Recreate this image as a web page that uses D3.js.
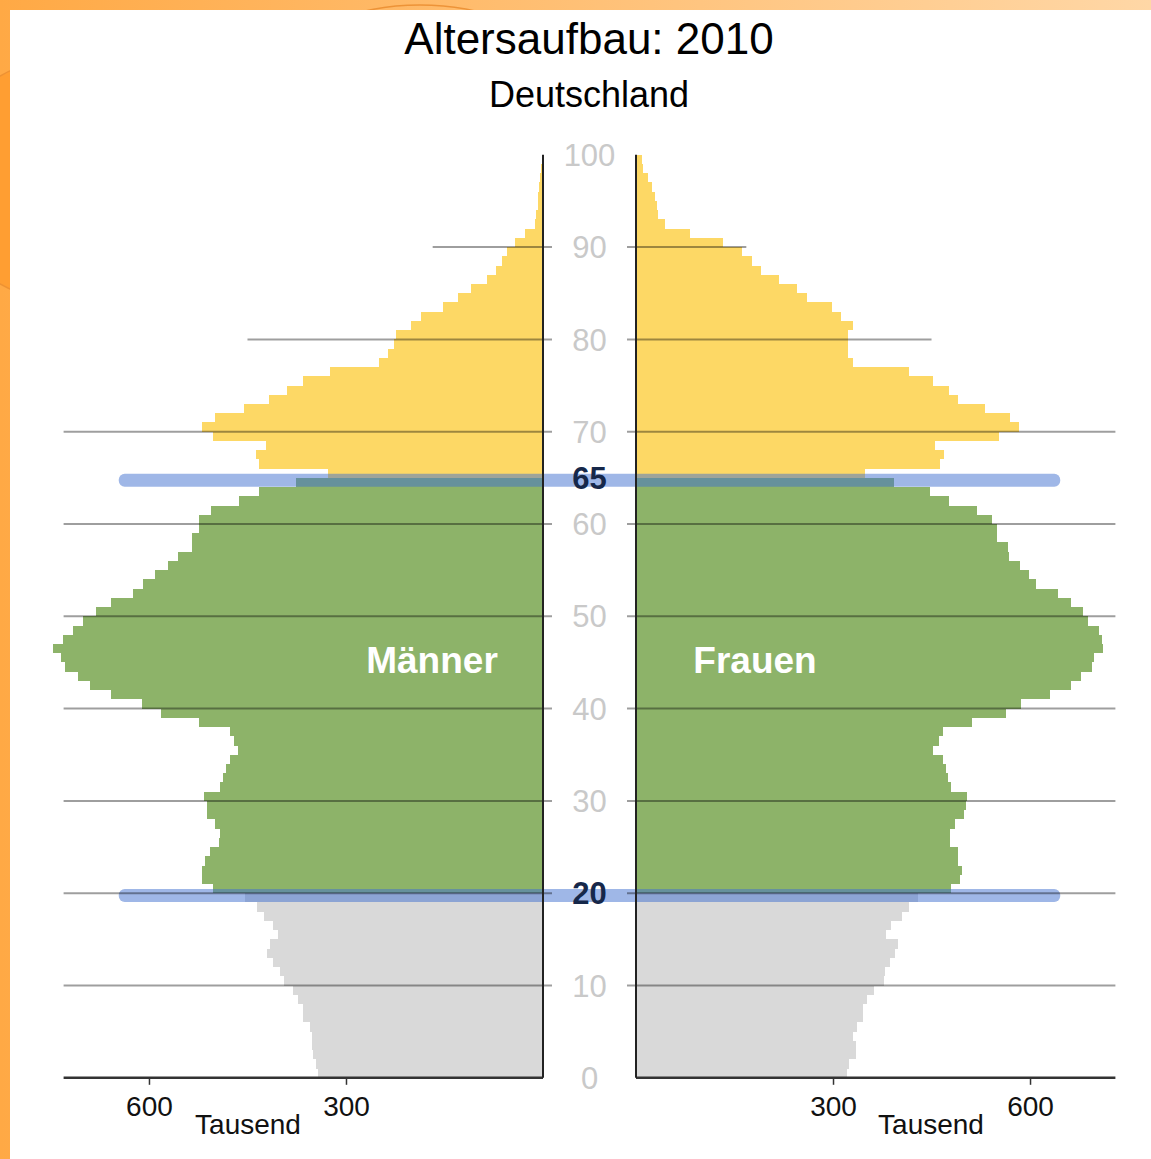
<!DOCTYPE html>
<html lang="de">
<head>
<meta charset="UTF-8">
<title>Altersaufbau: 2010</title>
<script src="https://d3js.org/d3.v7.min.js"></script>
<style>
  body { margin: 0; background: #fff; }
  svg text { font-family: "Liberation Sans", Arial, Helvetica, sans-serif; }
</style>
</head>
<body>
<svg id="chart" width="1151" height="1159"></svg>
<script>
// population in thousands, index = age 0..99
const ages = d3.range(0, 100);
const maenner = [
  342, 345, 350, 352, 352, 355, 365, 365, 373, 381,
  395, 400, 411, 421, 416, 403, 411, 425, 436, 454,
  502, 519, 519, 514, 507, 493, 492, 499, 512, 512,
  516, 492, 487, 483, 477, 465, 471, 477, 524, 582,
  611, 658, 690, 708, 728, 734, 746, 731, 715, 701,
  680, 658, 624, 609, 591, 571, 556, 535, 535, 524,
  524, 505, 463, 432, 376, 327, 432, 437, 422, 502,
  519, 500, 456, 417, 390, 365, 324, 250, 236, 227,
  224, 201, 186, 153, 129, 110, 85, 71, 63, 55,
  43, 27, 12, 10, 8, 7, 6, 4, 3, 2
];
const frauen = [
  322, 325, 335, 335, 330, 337, 345, 345, 352, 362,
  377, 379, 387, 395, 399, 381, 388, 405, 415, 430,
  479, 494, 496, 491, 491, 478, 478, 486, 499, 502,
  504, 480, 475, 472, 467, 453, 461, 467, 512, 563,
  587, 630, 662, 678, 694, 697, 711, 710, 705, 689,
  681, 662, 642, 609, 598, 585, 568, 566, 550, 550,
  542, 519, 476, 448, 393, 349, 463, 469, 455, 552,
  583, 570, 531, 491, 477, 453, 415, 331, 323, 323,
  323, 331, 312, 298, 260, 245, 217, 191, 176, 161,
  133, 82, 44, 34, 32, 29, 24, 19, 11, 9
];
const ageTicks = [0, 10, 30, 40, 50, 60, 70, 80, 90, 100];
const highlightAges = [20, 65];
const gridAges = [10, 20, 30, 40, 50, 60, 70, 80, 90];
const gridLength = {80: 450, 90: 168};   // shorter lines at the top (thousands)
const valueTicks = [300, 600];

const svg = d3.select("#chart");
const W = 1151, H = 1159;

// orange frame
const defs = svg.append("defs");
const grad = defs.append("linearGradient").attr("id", "frame").attr("x1", 0).attr("x2", 1);
grad.append("stop").attr("offset", 0).attr("stop-color", "#ffa945");
grad.append("stop").attr("offset", 1).attr("stop-color", "#ffd7a6");
svg.append("rect").attr("width", W).attr("height", H).attr("fill", "url(#frame)");
const deco = svg.append("g").attr("fill", "none").attr("stroke", "#e8892c").attr("stroke-width", 1.5);
deco.append("circle").attr("cx", 60).attr("cy", 180).attr("r", 120).attr("fill", "#ff9a2a").attr("opacity", 0.7);
deco.append("circle").attr("cx", 420).attr("cy", 260).attr("r", 255).attr("opacity", 0.8);
svg.append("rect").attr("x", 10).attr("y", 10).attr("width", W - 10).attr("height", H - 10).attr("fill", "#fff");

// scales
const y = d3.scaleLinear().domain([0, 100]).range([1077.8, 154.8]);
const xL = d3.scaleLinear().domain([0, 730]).range([543, 63.6]);
const xR = d3.scaleLinear().domain([0, 730]).range([636, 1115.4]);

const colorOf = a => a < 20 ? "#d9d9d9" : (a < 65 ? "#8db369" : "#fdd865");

// bars
const bars = svg.append("g").attr("shape-rendering", "crispEdges");
bars.selectAll("rect.m").data(ages).join("rect")
  .attr("class", "m")
  .attr("x", a => xL(maenner[a]))
  .attr("y", a => y(a + 1))
  .attr("width", a => xL(0) - xL(maenner[a]))
  .attr("height", a => y(a) - y(a + 1))
  .attr("fill", colorOf);
bars.selectAll("rect.f").data(ages).join("rect")
  .attr("class", "f")
  .attr("x", xR(0))
  .attr("y", a => y(a + 1))
  .attr("width", a => xR(frauen[a]) - xR(0))
  .attr("height", a => y(a) - y(a + 1))
  .attr("fill", colorOf);

// highlight bands at 20 and 65
svg.append("g").selectAll("rect").data(highlightAges).join("rect")
  .attr("x", xL(646))
  .attr("width", xR(646) - xL(646))
  .attr("y", a => y(a - 0.25) - 6.5)
  .attr("height", 13)
  .attr("rx", 6)
  .attr("fill", "#3f6fd0")
  .attr("opacity", 0.5);

// grid lines
const grid = svg.append("g").attr("stroke", "#000").attr("stroke-opacity", 0.38).attr("stroke-width", 2);
grid.selectAll("line.l").data(gridAges).join("line")
  .attr("x1", a => xL(gridLength[a] || 730)).attr("x2", xL(0) + 9)
  .attr("y1", a => y(a)).attr("y2", a => y(a));
grid.selectAll("line.r").data(gridAges).join("line")
  .attr("x1", xR(0) - 9).attr("x2", a => xR(gridLength[a] || 730))
  .attr("y1", a => y(a)).attr("y2", a => y(a));

// axes
const axL = d3.axisBottom(xL).tickValues(valueTicks).tickSize(7).tickFormat(d3.format("d"));
const axR = d3.axisBottom(xR).tickValues(valueTicks).tickSize(7).tickFormat(d3.format("d"));
[axL, axR].forEach(ax => {
  const g = svg.append("g").attr("transform", `translate(0,${y(0)})`).call(ax);
  g.select(".domain").remove();
  g.selectAll(".tick line").attr("stroke", "#333").attr("stroke-width", 1.5);
  g.selectAll(".tick text").attr("font-size", 28).attr("fill", "#111").attr("y", 18)
    .attr("font-family", "Liberation Sans, Arial, sans-serif");
});
svg.append("line").attr("x1", xL(730)).attr("x2", xL(0)).attr("y1", y(0)).attr("y2", y(0))
  .attr("stroke", "#333").attr("stroke-width", 2.5);
svg.append("line").attr("x1", xR(0)).attr("x2", xR(730)).attr("y1", y(0)).attr("y2", y(0))
  .attr("stroke", "#333").attr("stroke-width", 2.5);
svg.append("line").attr("x1", xL(0)).attr("x2", xL(0)).attr("y1", y(100)).attr("y2", y(0))
  .attr("stroke", "#222").attr("stroke-width", 2);
svg.append("line").attr("x1", xR(0)).attr("x2", xR(0)).attr("y1", y(100)).attr("y2", y(0))
  .attr("stroke", "#222").attr("stroke-width", 2);

// age labels in the middle
const midX = (xL(0) + xR(0)) / 2;
svg.append("g").selectAll("text").data(ageTicks).join("text")
  .attr("x", midX).attr("y", a => y(a)).attr("dy", "0.36em")
  .attr("text-anchor", "middle").attr("font-size", 31).attr("fill", "#c9c9c9")
  .text(a => a);
svg.append("g").selectAll("text").data(highlightAges).join("text")
  .attr("x", midX).attr("y", a => y(a)).attr("dy", "0.36em")
  .attr("text-anchor", "middle").attr("font-size", 31).attr("font-weight", "bold").attr("fill", "#16284a")
  .text(a => a);

// titles and labels
svg.append("text").attr("x", 589).attr("y", 54).attr("text-anchor", "middle")
  .attr("font-size", 44).attr("fill", "#000").text("Altersaufbau: 2010");
svg.append("text").attr("x", 589).attr("y", 107).attr("text-anchor", "middle")
  .attr("font-size", 36).attr("fill", "#000").text("Deutschland");
svg.append("text").attr("x", 432).attr("y", 673).attr("text-anchor", "middle")
  .attr("font-size", 37).attr("font-weight", "bold").attr("fill", "#fff").text("Männer");
svg.append("text").attr("x", 755).attr("y", 673).attr("text-anchor", "middle")
  .attr("font-size", 37).attr("font-weight", "bold").attr("fill", "#fff").text("Frauen");
svg.append("text").attr("x", 248).attr("y", 1134).attr("text-anchor", "middle")
  .attr("font-size", 28).attr("fill", "#111").text("Tausend");
svg.append("text").attr("x", 931).attr("y", 1134).attr("text-anchor", "middle")
  .attr("font-size", 28).attr("fill", "#111").text("Tausend");
</script>
</body>
</html>
